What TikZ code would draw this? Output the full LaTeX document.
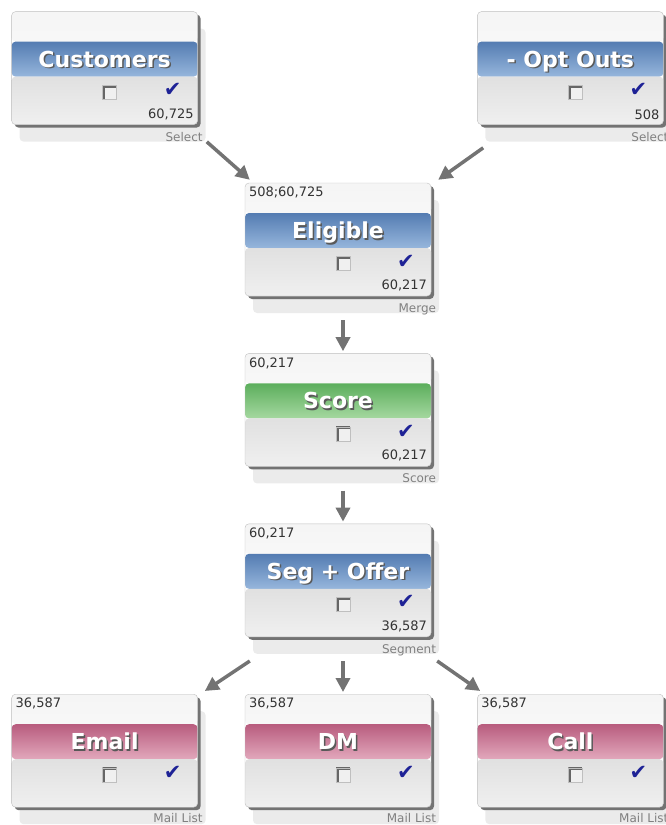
\documentclass[tikz,border=0pt]{standalone}
\usepackage{fontspec}
\setmainfont{DejaVu Sans}
\usepackage{tikz}
\usetikzlibrary{positioning}
\usetikzlibrary{shadows}
\usetikzlibrary{arrows.meta}
\tikzset{>=stealth}
\definecolor{bluetop}{RGB}{84,124,178}
\definecolor{bluebot}{RGB}{150,182,220}
\definecolor{greentop}{RGB}{92,174,92}
\definecolor{greenbot}{RGB}{165,216,160}
\definecolor{pinktop}{RGB}{184,92,126}
\definecolor{pinkbot}{RGB}{226,168,188}
\definecolor{tickblue}{RGB}{30,34,150}
\newcommand{\embossed}[1]{\rlap{\kern1.5pt\raisebox{-1.5pt}{\color{black!65}#1}}#1}
\tikzstyle{count} = [inner sep=0pt, text=black!80, font=\fontsize{13}{14}\selectfont]
\tikzstyle{tag} = [inner sep=0pt, text=black!50, font=\fontsize{12}{13}\selectfont]
\tikzstyle{chkbox} = [draw=black!25, fill=black!6, minimum size=14pt, inner sep=0pt,
  path picture={\draw[black!60, line width=5pt] (path picture bounding box.south west)
    -- (path picture bounding box.north west) -- (path picture bounding box.north east);}]
\tikzstyle{tick} = [inner sep=0pt, text=tickblue, font=\fontsize{21}{21}\selectfont]
\tikzstyle{flow} = [draw=black!55, line width=3.5pt, -{Triangle[length=14pt,width=14pt]}]

\begin{document}
\begin{tikzpicture}[x=1pt, y=-1pt,
      card/.style={minimum width=186pt,
      inner xsep=0pt, inner ysep=0pt,
      text height=55.5pt, text depth=57.5pt,
      rounded corners=4pt,
      draw=black!25, fill=white, text=white,
      font=\fontsize{22}{24}\selectfont\bfseries,
      general shadow={fill=black!8, shadow xshift=8pt, shadow yshift=-17pt},
      general shadow={fill=black!55, shadow xshift=3pt, shadow yshift=-3pt},
      path picture={
        \shade[top color=black!4, bottom color=white] (path picture bounding box.north west)
          rectangle ([yshift=-30pt]path picture bounding box.north east);
        \shade[top color=#1top, bottom color=#1bot] ([yshift=-30pt]path picture bounding box.north west)
          rectangle ([yshift=-65pt]path picture bounding box.north east);
        \shade[top color=black!12, bottom color=black!6] ([yshift=-65pt]path picture bounding box.north west)
          rectangle (path picture bounding box.south east);}}]
    \useasboundingbox (0,0) rectangle (665,825);
    \node [card=blue] (E) at (338,239.5) {\embossed{Eligible}};
    \node [card=blue, above left=58pt and 47pt of E] (C) {\embossed{Customers}};
    \node [card=blue, above right=58pt and 46pt of E] (O) {\embossed{- Opt Outs}};
    \node [card=green, below=57pt of E] (S) {\embossed{Score}};
    \node [card=blue, below=57pt of S] (SO) {\embossed{Seg + Offer}};
    \node [card=pink, below=57pt of SO] (DM) {\embossed{DM}};
    \node [card=pink, left=47pt of DM] (Em) {\embossed{Email}};
    \node [card=pink, right=46pt of DM] (Ca) {\embossed{Call}};
    %% Customers
    \node [chkbox] (Cbox) at ([shift={(5,24)}]C.center) {};
    \node [tick] (Cok) at ([shift={(68,22)}]C.center) {✔};
    \node [count, anchor=south east] (Cout) at ([shift={(-4,-5)}]C.south east) {60,725};
    \node [tag, anchor=north east] (Ctag) at ([shift={(5,7)}]C.south east) {Select};
    %% Opt Outs
    \node [chkbox] (Obox) at ([shift={(5,24)}]O.center) {};
    \node [tick] (Ook) at ([shift={(68,22)}]O.center) {✔};
    \node [count, anchor=south east] (Oout) at ([shift={(-4,-5)}]O.south east) {508};
    \node [tag, anchor=north east] (Otag) at ([shift={(5,7)}]O.south east) {Select};
    %% Eligible
    \node [count, anchor=north west] (Ein) at ([shift={(4,4)}]E.north west) {508;60,725};
    \node [chkbox] (Ebox) at ([shift={(5,24)}]E.center) {};
    \node [tick] (Eok) at ([shift={(68,22)}]E.center) {✔};
    \node [count, anchor=south east] (Eout) at ([shift={(-4,-5)}]E.south east) {60,217};
    \node [tag, anchor=north east] (Etag) at ([shift={(5,7)}]E.south east) {Merge};
    %% Score
    \node [count, anchor=north west] (Sin) at ([shift={(4,4)}]S.north west) {60,217};
    \node [chkbox] (Sbox) at ([shift={(5,24)}]S.center) {};
    \node [tick] (Sok) at ([shift={(68,22)}]S.center) {✔};
    \node [count, anchor=south east] (Sout) at ([shift={(-4,-5)}]S.south east) {60,217};
    \node [tag, anchor=north east] (Stag) at ([shift={(5,7)}]S.south east) {Score};
    %% Seg + Offer
    \node [count, anchor=north west] (SOin) at ([shift={(4,4)}]SO.north west) {60,217};
    \node [chkbox] (SObox) at ([shift={(5,24)}]SO.center) {};
    \node [tick] (SOok) at ([shift={(68,22)}]SO.center) {✔};
    \node [count, anchor=south east] (SOout) at ([shift={(-4,-5)}]SO.south east) {36,587};
    \node [tag, anchor=north east] (SOtag) at ([shift={(5,7)}]SO.south east) {Segment};
    %% Mail lists
    \node [count, anchor=north west] (Emin) at ([shift={(4,4)}]Em.north west) {36,587};
    \node [chkbox] (Embox) at ([shift={(5,24)}]Em.center) {};
    \node [tick] (Emok) at ([shift={(68,22)}]Em.center) {✔};
    \node [tag, anchor=north east] (Emtag) at ([shift={(5,6)}]Em.south east) {Mail List};
    \node [count, anchor=north west] (DMin) at ([shift={(4,4)}]DM.north west) {36,587};
    \node [chkbox] (DMbox) at ([shift={(5,24)}]DM.center) {};
    \node [tick] (DMok) at ([shift={(68,22)}]DM.center) {✔};
    \node [tag, anchor=north east] (DMtag) at ([shift={(5,6)}]DM.south east) {Mail List};
    \node [count, anchor=north west] (Cain) at ([shift={(4,4)}]Ca.north west) {36,587};
    \node [chkbox] (Cabox) at ([shift={(5,24)}]Ca.center) {};
    \node [tick] (Caok) at ([shift={(68,22)}]Ca.center) {✔};
    \node [tag, anchor=north east] (Catag) at ([shift={(5,6)}]Ca.south east) {Mail List};
    %% Flow
    \path [flow] ([shift={(9,17)}]C.south east) to ([shift={(5,-3)}]E.north west);
    \path [flow] ([shift={(6,23)}]O.south west) to ([shift={(7,-3)}]E.north east);
    \path [flow] ([shift={(5,24)}]E.south) to ([shift={(5,-2)}]S.north);
    \path [flow] ([shift={(5,24)}]S.south) to ([shift={(5,-2)}]SO.north);
    \path [flow] ([shift={(5,24)}]SO.south west) to ([shift={(7,-3)}]Em.north east);
    \path [flow] ([shift={(5,24)}]SO.south) to ([shift={(5,-2)}]DM.north);
    \path [flow] ([shift={(6,24)}]SO.south east) to ([shift={(3,-3)}]Ca.north west);
  \end{tikzpicture}
\end{document}
